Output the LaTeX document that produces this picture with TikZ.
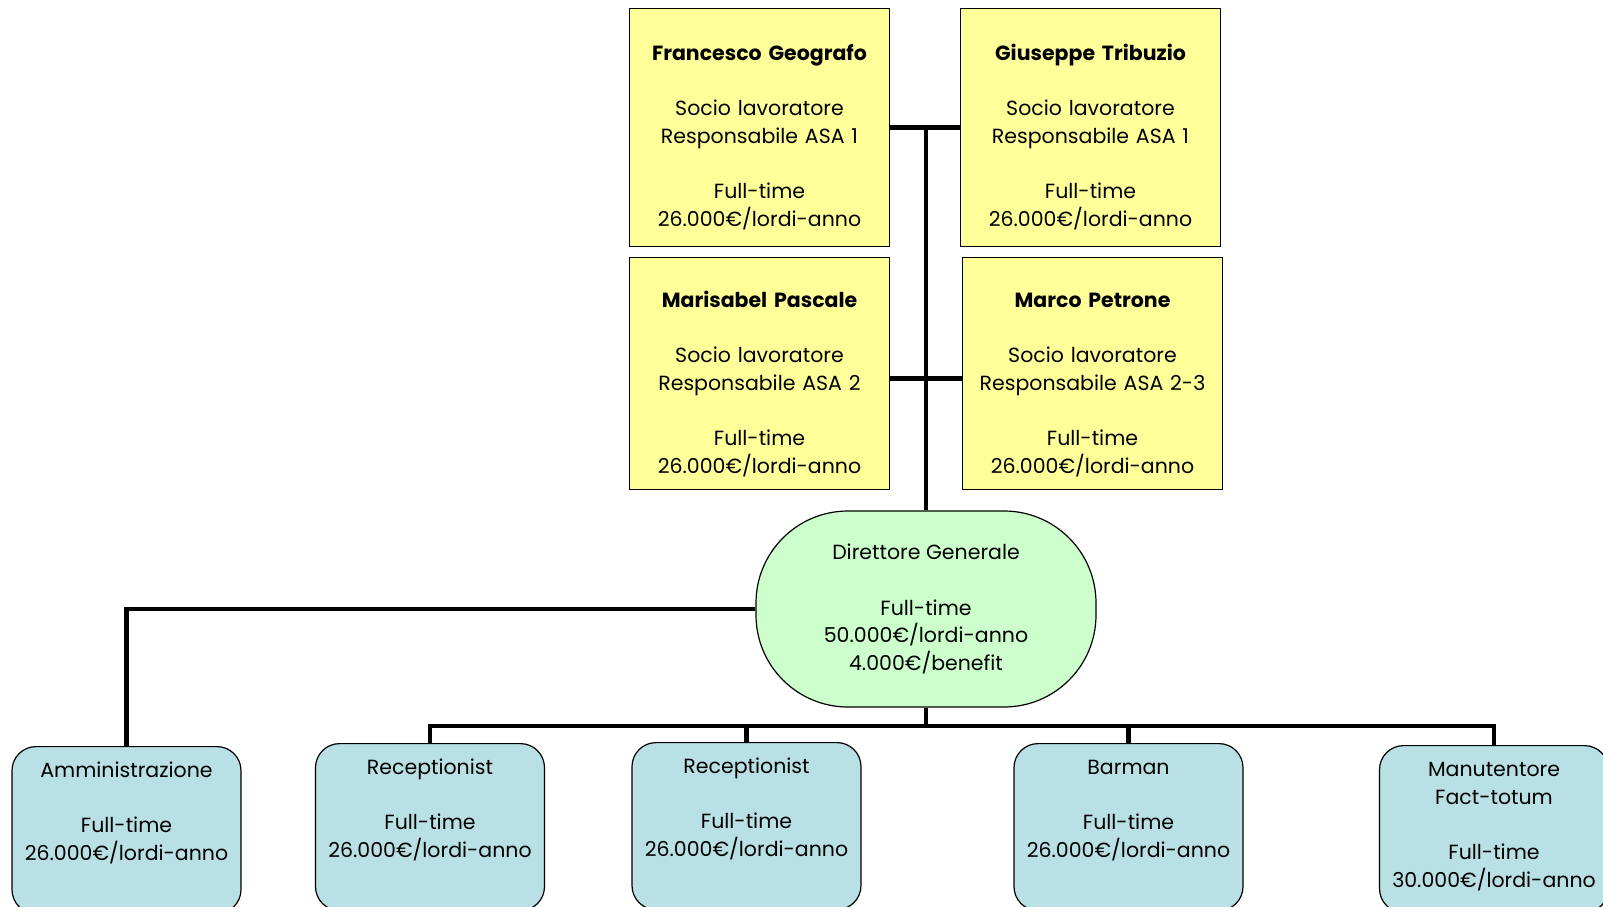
\documentclass[tikz,border=0pt]{standalone}
\usepackage{fontspec}
\setmainfont{Poppins}
\usepackage{tikz}
\usetikzlibrary{positioning}

\definecolor{sociofill}{RGB}{255,255,153}
\definecolor{dirfill}{RGB}{204,255,204}
\definecolor{stafffill}{RGB}{185,224,228}

\begin{document}
\begin{tikzpicture}
[x=1pt,y=-1pt,
every node/.style={font=\fontsize{20.5}{27.6}\selectfont,align=center},
socio/.style={draw,line width=1.2pt,fill=sociofill,anchor=north,minimum width=260pt,
  text width=256pt,inner xsep=2pt,inner ysep=0pt,text height=52pt,text depth=186pt},
dir/.style={draw,line width=1.2pt,fill=dirfill,rectangle,rounded corners=92pt,
  minimum width=340pt,minimum height=196pt},
staff/.style={draw,line width=1.2pt,fill=stafffill,anchor=north,rounded corners=24pt,
  minimum width=229pt,text width=225pt,inner xsep=2pt,inner ysep=0pt,
  text height=31pt,text depth=136pt},
conn/.style={line width=4.5pt}]
\useasboundingbox (0,0) rectangle (1603,907);
% soci
\node [socio] (fg) at (759.5,8) {\textbf{Francesco Geografo}\\[27.6pt]Socio lavoratore\\Responsabile ASA 1\\[27.6pt]Full-time\\26.000€/lordi-anno};
\node [socio] (gt) at (1090.5,8) {\textbf{Giuseppe Tribuzio}\\[27.6pt]Socio lavoratore\\Responsabile ASA 1\\[27.6pt]Full-time\\26.000€/lordi-anno};
\node [socio,text height=50pt,text depth=182pt] (mps) at (759.5,257) {\textbf{Marisabel Pascale}\\[27.6pt]Socio lavoratore\\Responsabile ASA 2\\[27.6pt]Full-time\\26.000€/lordi-anno};
\node [socio,text height=50pt,text depth=182pt] (mpt) at (1092.5,257) {\textbf{Marco Petrone}\\[27.6pt]Socio lavoratore\\Responsabile ASA 2-3\\[27.6pt]Full-time\\26.000€/lordi-anno};
% direttore
\node [dir] (dg) at (926,609) {Direttore Generale\\[27.6pt]Full-time\\50.000€/lordi-anno\\4.000€/benefit};
% staff
\node [staff] (adm) at (126.5,746) {Amministrazione\\[27.6pt]Full-time\\26.000€/lordi-anno};
\node [staff] (rc1) at (430,743) {Receptionist\\[27.6pt]Full-time\\26.000€/lordi-anno};
\node [staff] (rc2) at (746.5,742) {Receptionist\\[27.6pt]Full-time\\26.000€/lordi-anno};
\node [staff] (bar) at (1128.5,743) {Barman\\[27.6pt]Full-time\\26.000€/lordi-anno};
\node [staff] (man) at (1494,745) {Manutentore\\Fact-totum\\[27.6pt]Full-time\\30.000€/lordi-anno};
% linee
\coordinate (bus) at (926,726);
\draw [conn] (fg.east) -- (gt.west);
\draw [conn] ([yshift=-5pt]mps.east) -- ([yshift=-5pt]mpt.west);
\draw [conn] (fg.east -| dg.north) -- (dg.north);
\draw [conn] (dg.west) -| (adm.north);
\draw [conn] (dg.south) -- (bus);
\foreach \n in {rc1,rc2,bar,man}
  \draw [conn] (bus) -| (\n.north);
\end{tikzpicture}
\end{document}
